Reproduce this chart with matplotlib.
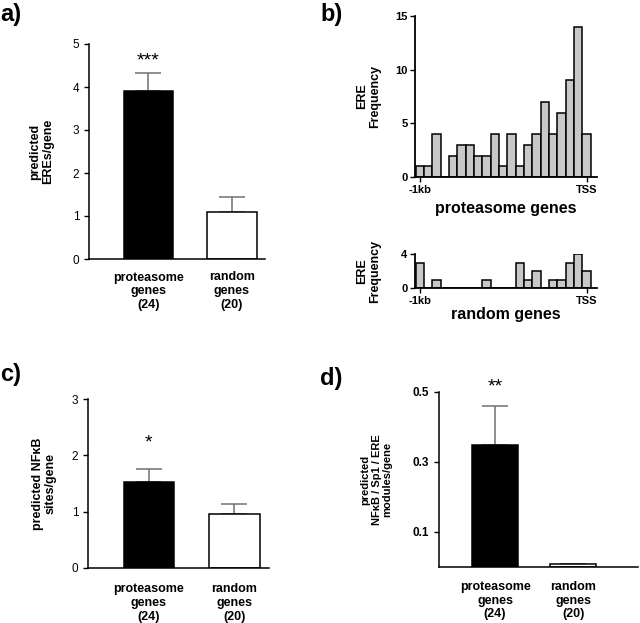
import matplotlib
matplotlib.use("Agg")
import matplotlib.pyplot as plt

plt.rcParams['font.family'] = ['Liberation Sans', 'DejaVu Sans']

# panel a/c/d bar data
groups = ['proteasome\ngenes\n(24)', 'random\ngenes\n(20)']
ere_mean = [3.9, 1.1]
ere_sem = [0.42, 0.35]
nfkb_mean = [1.53, 0.95]
nfkb_sem = [0.23, 0.18]
module_mean = [0.35, 0.01]
module_sem = [0.11, 0.0]

# panel b histograms: 50 bp bins from -1kb to TSS
bin_pos = [-1000, -950, -900, -850, -800, -750, -700, -650, -600, -550, -500,
           -450, -400, -350, -300, -250, -200, -150, -100, -50, 0]
prot_freq = [1, 1, 4, 0, 2, 3, 3, 2, 2, 4, 1, 4, 1, 3, 4, 7, 4, 6, 9, 14, 4]
rand_freq = [3, 0, 1, 0, 0, 0, 0, 0, 1, 0, 0, 0, 3, 1, 2, 0, 1, 1, 3, 4, 2]

W, H = 640, 623
fig = plt.figure(figsize=(6.4, 6.23), dpi=100)


def box(l, r, t, b):
    return [l / W, 1 - b / H, (r - l) / W, (b - t) / H]


def bar_panel(rect, means, sems, xlim, ylim, yticks, ylabel, lab_x, stars,
              star_y, bold_ticks=False, ylab_size=9, pad=9):
    ax = fig.add_axes(rect)
    ax.bar([0, 1], means, width=0.59, color=['black', 'white'],
           edgecolor='black', linewidth=1.1, zorder=2)
    ax.errorbar([0, 1], means, yerr=[[0, 0], sems], fmt='none',
                ecolor='#707070', elinewidth=1.1, capsize=9.5, capthick=1.1,
                zorder=1)
    ax.set_xlim(*xlim)
    ax.set_ylim(*ylim)
    ax.set_yticks(yticks)
    ax.set_xticks([0, 1], groups, fontweight='bold', fontsize=9)
    ax.tick_params(axis='x', length=0, pad=pad)
    ax.tick_params(axis='y', length=3.5, width=1, labelsize=8.5)
    if bold_ticks:
        for t in ax.get_yticklabels():
            t.set_fontweight('bold')
            t.set_fontsize(8.5)
    for s in ['top', 'right']:
        ax.spines[s].set_visible(False)
    for s in ['left', 'bottom']:
        ax.spines[s].set_linewidth(1.1)
    ax.set_ylabel(ylabel, fontweight='bold', fontsize=ylab_size, va='center',
                  linespacing=1.1)
    ax.yaxis.set_label_coords(lab_x, 0.5)
    ax.text(0, star_y, stars, ha='center', va='center', fontsize=14)
    return ax


# a)
bar_panel(box(89, 265, 44, 259), ere_mean, ere_sem, (-0.71, 1.395), (0, 5),
          [0, 1, 2, 3, 4, 5], 'predicted\nEREs/gene', -0.27, '***', 4.6)

# c)
bar_panel(box(88, 269, 399, 568), nfkb_mean, nfkb_sem, (-0.713, 1.404), (0, 3),
          [0, 1, 2, 3], 'predicted NFκB\nsites/gene', -0.24, '*', 2.22, pad=11)

# d)
bar_panel(box(439, 638, 392, 567), module_mean, module_sem, (-0.718, 1.83),
          (0, 0.5), [0.1, 0.3, 0.5], 'predicted\nNFκB / Sp1 / ERE\nmodules/gene',
          -0.314, '**', 0.515, bold_ticks=True, ylab_size=8, pad=10)


def hist_panel(rect, freq, ylim, yticks, xlabel, xlab_y):
    ax = fig.add_axes(rect)
    ax.bar(bin_pos, freq, width=50, color='#c8c8c8', edgecolor='black',
           linewidth=1.1)
    ax.set_xlim(-1030, 63)
    ax.set_ylim(*ylim)
    ax.set_yticks(yticks)
    ax.set_xticks([-1000, 0], ['-1kb', 'TSS'])
    for t in ax.get_xticklabels() + ax.get_yticklabels():
        t.set_fontweight('bold')
        t.set_fontsize(8)
    ax.tick_params(length=3.5, width=1, pad=2)
    for s in ['top', 'right']:
        ax.spines[s].set_visible(False)
    for s in ['left', 'bottom']:
        ax.spines[s].set_linewidth(1.3)
    ax.set_ylabel('ERE\nFrequency', fontweight='bold', fontsize=9,
                  va='center', linespacing=1.1)
    ax.yaxis.set_label_coords(-0.253, 0.5)
    ax.set_xlabel(xlabel, fontweight='bold', fontsize=11.5)
    ax.xaxis.set_label_coords(0.5, xlab_y)
    return ax


# b)
hist_panel(box(415, 597, 16, 177), prot_freq, (0, 15), [0, 5, 10, 15],
           'proteasome genes', -0.15)
hist_panel(box(415, 597, 254, 288), rand_freq, (0, 4), [0, 4],
           'random genes', -0.55)

# panel letters
for lab, x, y in [('a)', 0, 15), ('b)', 320, 14), ('c)', 0, 375), ('d)', 320, 379)]:
    fig.text(x / W, 1 - y / H, lab, fontsize=17, fontweight='bold',
             ha='left', va='center')

fig.savefig('out.png', dpi=100)
